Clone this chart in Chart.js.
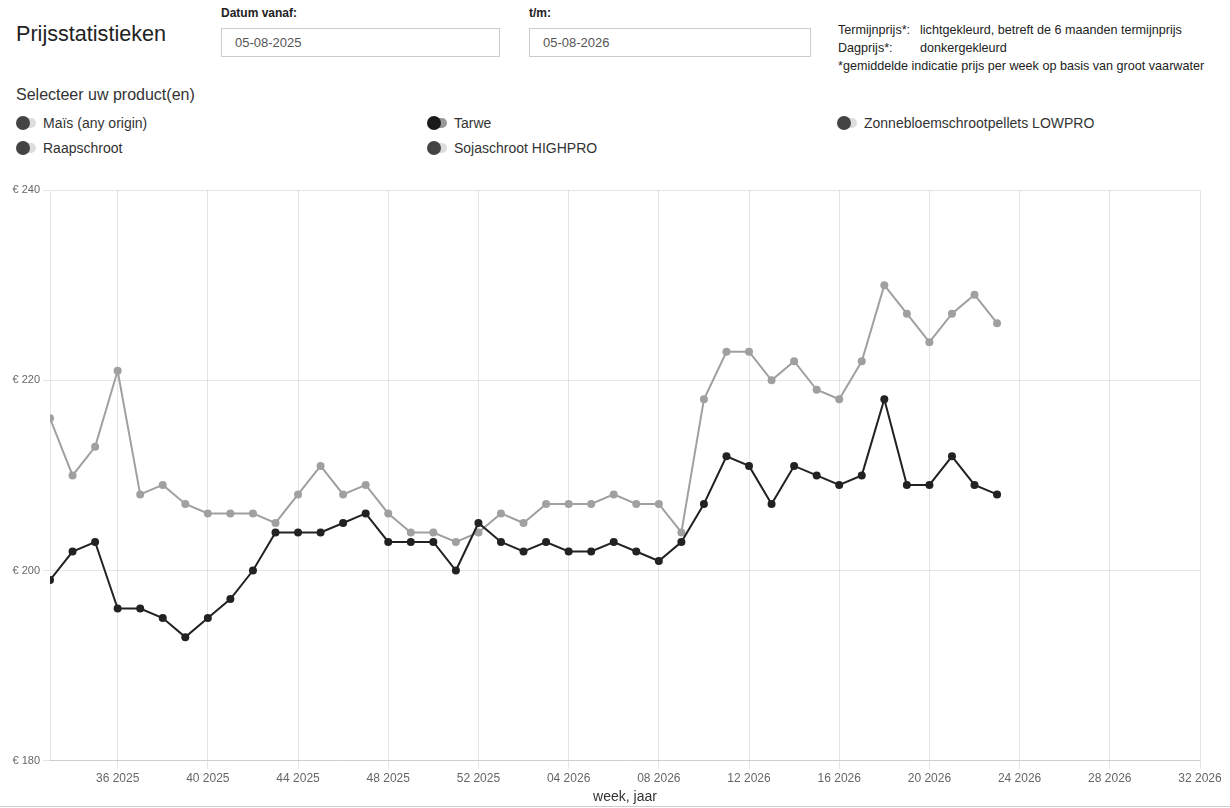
<!DOCTYPE html>
<html>
<head>
<meta charset="utf-8">
<script src="https://cdn.jsdelivr.net/npm/chart.js@4.4.1/dist/chart.umd.min.js"></script>
<style>
  html, body { margin:0; padding:0; background:#fff; }
  body { width:1230px; height:808px; position:relative; overflow:hidden; font-family:"Liberation Sans", Arial, sans-serif; color:#333; }
  .abs { position:absolute; white-space:nowrap; }
  #title { left:16px; top:21px; font-size:21.6px; color:#222; }
  .lbl { font-size:12px; font-weight:bold; color:#222; top:6px; }
  .inp { top:28px; height:29px; width:279px; border:1px solid #ccc; box-sizing:border-box; font-size:13px; color:#555; line-height:27px; padding-left:13px; }
  .info { font-size:12.6px; color:#222; left:838px; }
  #sel { left:16px; top:86px; font-size:16px; color:#333; }
  .tog { position:absolute; height:20px; width:380px; font-size:14px; color:#333; line-height:20px; white-space:nowrap; }
  .tog .track { position:absolute; left:6px; top:5px; width:14px; height:10px; border-radius:5px; background:#ddd; }
  .tog .knob { position:absolute; left:0; top:3px; width:14px; height:14px; border-radius:7px; background:#444; }
  .tog.on .track { background:#999; }
  .tog.on .knob { background:#1a1a1a; }
  .tog span { position:absolute; left:27px; top:0; }
  #wrap { position:absolute; left:0; top:180px; width:1230px; height:629px; }
  #bline { position:absolute; left:0; top:806px; width:1230px; height:1px; background:#ccc; }
</style>
</head>
<body>
<div id="title" class="abs">Prijsstatistieken</div>
<div class="abs lbl" style="left:221px">Datum vanaf:</div>
<div class="abs inp" style="left:221px">05-08-2025</div>
<div class="abs lbl" style="left:529px">t/m:</div>
<div class="abs inp" style="left:529px; width:282px">05-08-2026</div>
<div class="abs info" style="top:23px">Termijnprijs*:</div>
<div class="abs info" style="top:23px; left:920px">lichtgekleurd, betreft de 6 maanden termijnprijs</div>
<div class="abs info" style="top:41px">Dagprijs*:</div>
<div class="abs info" style="top:41px; left:920px">donkergekleurd</div>
<div class="abs info" style="top:59px">*gemiddelde indicatie prijs per week op basis van groot vaarwater</div>
<div id="sel" class="abs">Selecteer uw product(en)</div>
<div class="tog" style="left:16px; top:113px"><div class="track"></div><div class="knob"></div><span>Maïs (any origin)</span></div>
<div class="tog" style="left:16px; top:138px"><div class="track"></div><div class="knob"></div><span>Raapschroot</span></div>
<div class="tog on" style="left:427px; top:113px"><div class="track"></div><div class="knob"></div><span>Tarwe</span></div>
<div class="tog" style="left:427px; top:138px"><div class="track"></div><div class="knob"></div><span>Sojaschroot HIGHPRO</span></div>
<div class="tog" style="left:837px; top:113px"><div class="track"></div><div class="knob"></div><span>Zonnebloemschrootpellets LOWPRO</span></div>
<div id="wrap"><canvas id="c"></canvas></div>
<div id="bline"></div>
<script>
// Weeks (week year)
const weeks = ["33 2025","34 2025","35 2025","36 2025","37 2025","38 2025","39 2025","40 2025","41 2025","42 2025","43 2025","44 2025","45 2025","46 2025","47 2025","48 2025","49 2025","50 2025","51 2025","52 2025",
  "01 2026","02 2026","03 2026","04 2026","05 2026","06 2026","07 2026","08 2026","09 2026","10 2026","11 2026","12 2026","13 2026","14 2026","15 2026","16 2026","17 2026","18 2026","19 2026","20 2026","21 2026","22 2026","23 2026"];
// Tarwe dagprijs (dark)
const dagprijs = [199,202,203,196,196,195,193,195,197,200,204,204,204,205,206,203,203,203,200,205,
  203,202,203,202,202,203,202,201,203,207,212,211,207,211,210,209,210,218,209,209,212,209,208];
// Tarwe termijnprijs (light)
const termijnprijs = [216,210,213,221,208,209,207,206,206,206,205,208,211,208,209,206,204,204,203,204,
  206,205,207,207,207,208,207,207,204,218,223,223,220,222,219,218,222,230,227,224,227,229,226];
// x-axis tick labels
const xTickLabels = ["36 2025","40 2025","44 2025","48 2025","52 2025","04 2026","08 2026","12 2026","16 2026","20 2026","24 2026","28 2026","32 2026"];
const axisStart = "33 2025";
const axisEnd = "32 2026";
const yTicks = [180,200,220,240];

function weekIndex(s){ const p = s.split(" "); return parseInt(p[0],10) + (parseInt(p[1],10)-2025)*52; }
function idxLabel(v){ const y = v > 52 ? 2026 : 2025; const w = v > 52 ? v-52 : v; return String(w).padStart(2,"0")+" "+y; }

const toPts = arr => arr.map((v,i)=>({x: weekIndex(weeks[i]), y: v}));

new Chart(document.getElementById('c'), {
  type: 'line',
  data: {
    datasets: [
      { label:'Tarwe dagprijs', data: toPts(dagprijs), borderColor:'#222222', backgroundColor:'#222222', borderWidth:2, pointRadius:4, pointBorderWidth:0, tension:0 },
      { label:'Tarwe termijnprijs', data: toPts(termijnprijs), borderColor:'#a0a0a0', backgroundColor:'#a0a0a0', borderWidth:2, pointRadius:4, pointBorderWidth:0, tension:0 }
    ]
  },
  options: {
    responsive:true, maintainAspectRatio:false, animation:false,
    layout:{ padding:{ top:10, right:30, left:0, bottom:0 } },
    plugins:{ legend:{display:false}, tooltip:{enabled:false} },
    scales:{
      x:{ type:'linear', min: weekIndex(axisStart), max: weekIndex(axisEnd),
        afterBuildTicks: s => { s.ticks = xTickLabels.map(l=>({value: weekIndex(l)})); },
        ticks:{ autoSkip:false, maxRotation:0, color:'#666', font:{family:'Liberation Sans', size:12}, callback: v => idxLabel(v) },
        grid:{ color:'rgba(0,0,0,0.1)', tickLength:8 },
        title:{ display:true, text:'week, jaar', color:'#333', font:{family:'Liberation Sans', size:14}, padding:{top:0,bottom:3} }
      },
      y:{ min:180, max:240,
        afterBuildTicks: s => { s.ticks = yTicks.map(v=>({value:v})); },
        afterFit: s => { s.width = 50; },
        ticks:{ color:'#666', font:{family:'Liberation Sans', size:11}, padding:3, callback: v => '€ ' + v },
        grid:{ color:'rgba(0,0,0,0.1)', tickLength:7 }
      }
    }
  }
});
</script>
</body>
</html>
